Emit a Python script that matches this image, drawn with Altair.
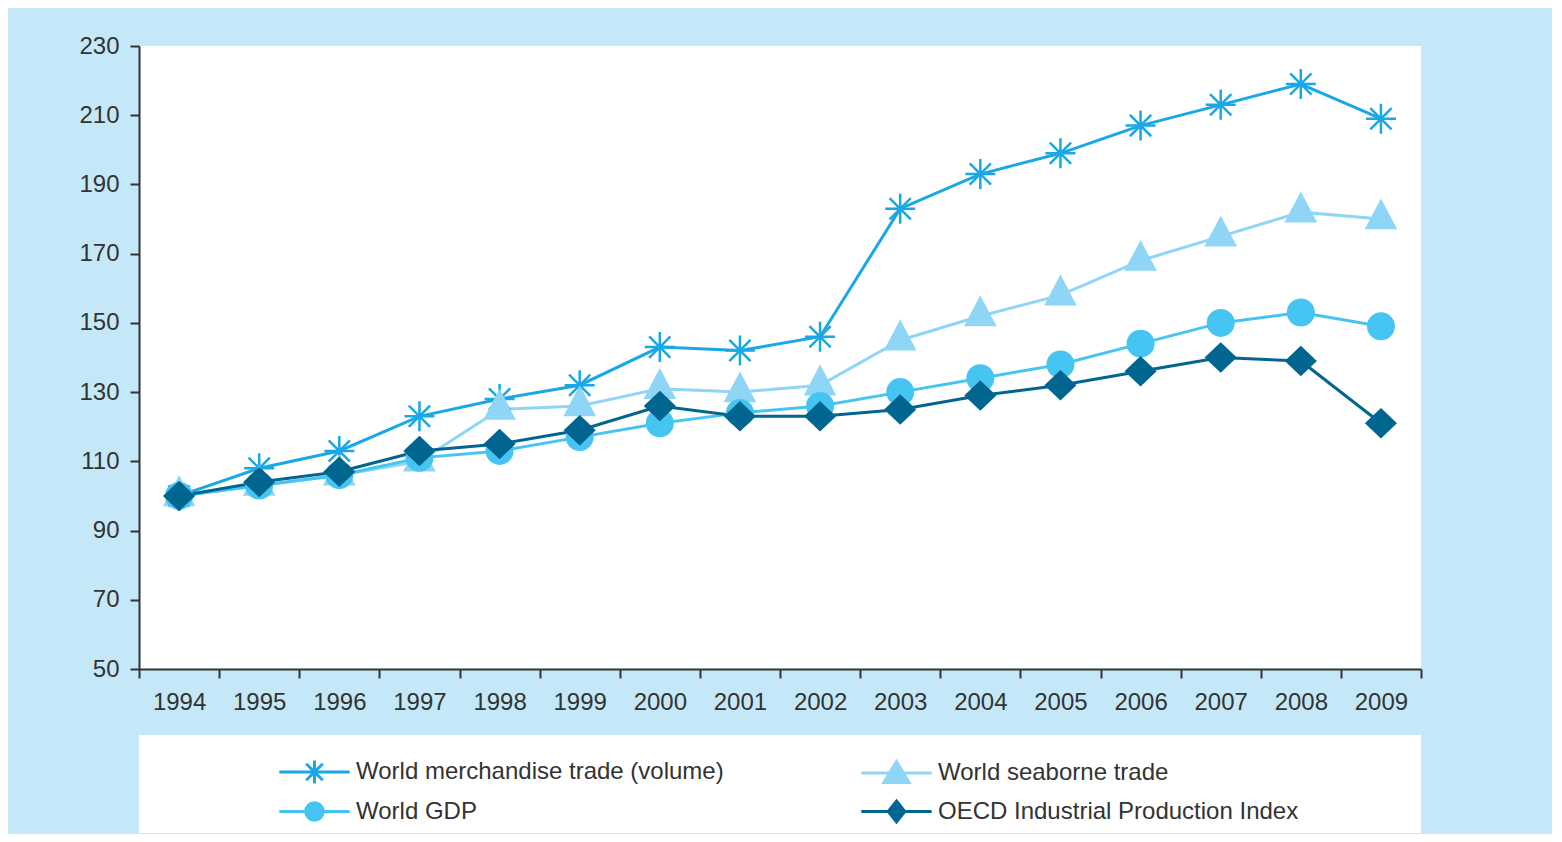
import altair as alt
import pandas as pd

years = [str(y) for y in range(1994, 2010)]
merch = [100, 108, 113, 123, 128, 132, 143, 142, 146, 183, 193, 199, 207, 213, 219, 209]
seaborne = [100, 103, 106, 110, 125, 126, 131, 130, 132, 145, 152, 158, 168, 175, 182, 180]
gdp = [100, 103, 106, 111, 113, 117, 121, 124, 126, 130, 134, 138, 144, 150, 153, 149]
oecd = [100, 104, 107, 113, 115, 119, 126, 123, 123, 125, 129, 132, 136, 140, 139, 121]

series_names = [
    "World merchandise trade (volume)",
    "World seaborne trade",
    "World GDP",
    "OECD Industrial Production Index",
]
colors = ["#19a8e6", "#8fd6f6", "#46c4f2", "#00658f"]
y_ticks = [50, 70, 90, 110, 130, 150, 170, 190, 210, 230]

# marker shapes used on the plot (unit box scaled by sqrt(size))
plot_paths = [
    "M0,-1V1M-1,0H1M-0.71,-0.71L0.71,0.71M-0.71,0.71L0.71,-0.71",
    "M0,-1.2L0.95,0.6L-0.95,0.6Z",
    "M0.85,0A0.85,0.85 0 1,1 -0.85,0A0.85,0.85 0 1,1 0.85,0Z",
    "M0,-0.9L0.95,0L0,0.9L-0.95,0Z",
]
# legend symbols: line segment + marker
legend_paths = [
    "M-3.2,0H3.2M0,-1.05V1.05M-0.75,-0.75L0.75,0.75M-0.75,0.75L0.75,-0.75",
    "M-3.2,0H3.2M0,-1.05L1.15,0.85L-1.15,0.85Z",
    "M-3.2,0H3.2M0.8,0A0.8,0.8 0 1,1 -0.8,0A0.8,0.8 0 1,1 0.8,0Z",
    "M-3.2,0H3.2M0,-0.95L0.75,0L0,0.95L-0.75,0Z",
]
# legend is filled column by column
legend_order = [series_names[0], series_names[2], series_names[1], series_names[3]]
legend_colors = [colors[0], colors[2], colors[1], colors[3]]
legend_shapes = [legend_paths[0], legend_paths[2], legend_paths[1], legend_paths[3]]

rows = []
for name, vals in zip(series_names, [merch, seaborne, gdp, oecd]):
    for yr, v in zip(years, vals):
        rows.append({"year": yr, "value": v, "series": name})
df = pd.DataFrame(rows)

color_scale = alt.Scale(domain=series_names, range=colors)

x = alt.X(
    "year:O",
    title=None,
    sort=years,
    scale=alt.Scale(type="band", paddingInner=0, paddingOuter=0),
    axis=alt.Axis(tickBand="extent", labelAngle=0, labelPadding=12),
)
y = alt.Y(
    "value:Q",
    title=None,
    scale=alt.Scale(domain=[50, 230], nice=False, zero=False),
    axis=alt.Axis(values=y_ticks, grid=False, labelPadding=11),
)

lines = alt.Chart(df).mark_line(strokeWidth=3).encode(
    x=x,
    y=y,
    color=alt.Color("series:N", scale=color_scale, legend=None),
)
points = alt.Chart(df).mark_point(filled=True, size=900, strokeWidth=2.5, opacity=1).encode(
    x=x,
    y=y,
    color=alt.Color("series:N", scale=color_scale, legend=None),
    stroke=alt.Stroke("series:N", scale=color_scale, legend=None),
    shape=alt.Shape("series:N", scale=alt.Scale(domain=series_names, range=plot_paths), legend=None),
)
top = alt.layer(lines, points).properties(width=1282, height=623)

leg = alt.Legend(
    title=None,
    orient="none",
    legendX=163,
    legendY=24,
    columns=2,
    columnPadding=131,
    rowPadding=5,
    labelFontSize=24,
    labelColor="#333333",
    labelFont="Liberation Sans",
    labelLimit=1000,
    labelOffset=29,
    symbolSize=484,
    symbolStrokeWidth=3,
    symbolOpacity=1,
    padding=0,
)

leg_color_scale = alt.Scale(domain=legend_order, range=legend_colors)
legend_chart = (
    alt.Chart(df)
    .transform_filter("false")
    .mark_point(filled=True, size=484, strokeWidth=3, opacity=1)
    .encode(
        x=alt.X("year:O", axis=None, title=None),
        fill=alt.Fill("series:N", scale=leg_color_scale, legend=leg),
        stroke=alt.Stroke("series:N", scale=leg_color_scale, legend=leg),
        shape=alt.Shape("series:N", scale=alt.Scale(domain=legend_order, range=legend_shapes), legend=leg),
    )
    .properties(width=1282, height=98, view=alt.ViewBackground(fill="white", strokeWidth=0))
)

chart = (
    alt.vconcat(top, legend_chart, spacing=21)
    .resolve_scale(x="independent", color="independent", fill="independent", stroke="independent", shape="independent")
    .properties(background="#c5e8f8", padding={"left": 70, "top": 26, "right": 130, "bottom": 1})
    .configure(font="Liberation Sans")
    .configure_view(fill="white", strokeWidth=0)
    .configure_axis(
        domainColor="#333333",
        domainWidth=2,
        tickColor="#333333",
        tickWidth=2,
        tickSize=9,
        labelFontSize=24,
        labelColor="#333333",
        labelFont="Liberation Sans",
    )
)

chart.save("out.html", embed_options={"renderer": "svg", "actions": False})
